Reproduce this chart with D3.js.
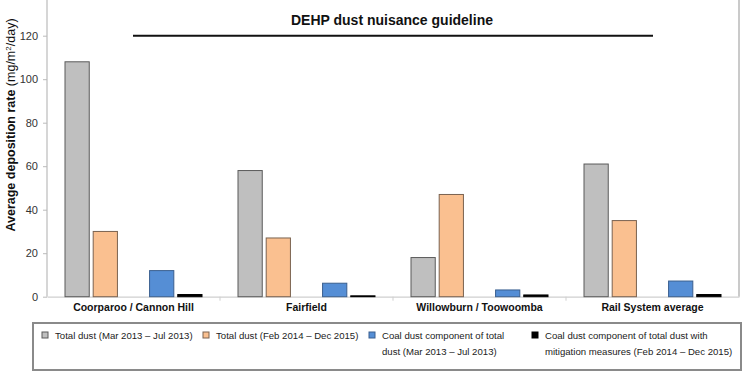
<!DOCTYPE html>
<html><head><meta charset="utf-8">
<script src="https://cdn.jsdelivr.net/npm/d3@7"></script>
<style>body{margin:0;background:#fff}svg{display:block}</style>
</head><body>
<svg id="c" width="750" height="375"></svg>
<script>
const categories = ["Coorparoo / Cannon Hill", "Fairfield", "Willowburn / Toowoomba", "Rail System average"];
const totalDust2013 = [108, 58, 18, 61];
const totalDust2014 = [30, 27, 47, 35];
const coalDust2013 = [12, 6.2, 3.1, 7.2];
const coalDustMitigated = [1, 0.4, 0.8, 1];
const yTicks = [0, 20, 40, 60, 80, 100, 120];
const guidelineValue = 120;
const guidelineLabel = "DEHP dust nuisance guideline";
const seriesNames = [
  ["Total dust (Mar 2013 – Jul 2013)"],
  ["Total dust (Feb 2014 – Dec 2015)"],
  ["Coal dust component of total", "dust (Mar 2013 – Jul 2013)"],
  ["Coal dust component of total dust with", "mitigation measures (Feb 2014 – Dec 2015)"]
];

(function () {
const series = [
  {key: "s0", values: totalDust2013, fill: "#bfbfbf", stroke: "#5a5a5a"},
  {key: "s1", values: totalDust2014, fill: "#fac090", stroke: "#7a6250"},
  {key: "s2", values: coalDust2013, fill: "#558ed5", stroke: "#3a5f8f"},
  {key: "s3", values: coalDustMitigated, fill: "#000000", stroke: "#000000"}
];

const svg = d3.select("#c");
const pLeft = 47, pRight = 739, pTop = 0, pBottom = 296.7;

const x = d3.scaleBand().domain(categories).range([pLeft, pRight]).padding(0);
const inner = d3.scaleBand().domain(["s0", "s1", "gap", "s2", "s3"])
  .range([18, x.bandwidth() - 18]).paddingInner(0.14).paddingOuter(0);
const y = d3.scaleLinear().domain([0, 120]).range([pBottom, 35.7]);

svg.append("line").attr("x1", pLeft).attr("x2", pLeft).attr("y1", pTop).attr("y2", pBottom)
  .attr("stroke", "#c8c8c8").attr("stroke-width", 1.5);
svg.append("line").attr("x1", pRight).attr("x2", pRight).attr("y1", pTop).attr("y2", pBottom)
  .attr("stroke", "#b8b8b8").attr("stroke-width", 1.5);

const yAxis = d3.axisLeft(y).tickValues(yTicks).tickSize(4).tickPadding(5);
const gy = svg.append("g").attr("transform", `translate(${pLeft},0)`).call(yAxis);
gy.select(".domain").remove();
gy.selectAll(".tick line").attr("stroke", "#bbb");
gy.selectAll(".tick text").attr("fill", "#333").style("font-family", "Liberation Sans, Arial, sans-serif").style("font-size", "11px");

const xAxis = d3.axisBottom(x).tickSize(0).tickPadding(7);
const gx = svg.append("g").attr("transform", `translate(0,${pBottom})`).call(xAxis);
gx.select(".domain").attr("stroke", "#cfcfcf").attr("stroke-width", 1.2);
gx.selectAll(".tick text").attr("fill", "#111").style("font-family", "Liberation Sans, Arial, sans-serif")
  .style("font-size", "10.5px").style("font-weight", "bold");
svg.append("g").selectAll("line").data(categories.slice(1)).join("line")
  .attr("x1", d => x(d)).attr("x2", d => x(d)).attr("y1", pBottom).attr("y2", pBottom + 4)
  .attr("stroke", "#cfcfcf");

const groups = svg.append("g").selectAll("g").data(categories).join("g")
  .attr("transform", d => `translate(${x(d)},0)`);
groups.selectAll("rect").data((c, i) => series.map(s => ({s, v: s.values[i]}))).join("rect")
  .attr("x", d => inner(d.s.key))
  .attr("width", inner.bandwidth())
  .attr("y", d => y(d.v))
  .attr("height", d => y(0) - y(d.v))
  .attr("fill", d => d.s.fill)
  .attr("stroke", d => d.s.stroke)
  .attr("stroke-width", 1);

svg.append("line").attr("x1", 133).attr("x2", 653).attr("y1", y(guidelineValue)).attr("y2", y(guidelineValue))
  .attr("stroke", "#111").attr("stroke-width", 2);
svg.append("text").attr("x", 392).attr("y", 25).attr("text-anchor", "middle")
  .style("font-family", "Liberation Sans, Arial, sans-serif").style("font-size", "14px").style("font-weight", "bold")
  .attr("fill", "#111").text(guidelineLabel);

const yl = svg.append("text").attr("transform", "translate(15,125) rotate(-90)").attr("text-anchor", "middle")
  .style("font-family", "Liberation Sans, Arial, sans-serif").style("font-size", "12.5px").attr("fill", "#111");
yl.append("tspan").style("font-weight", "bold").text("Average deposition rate ");
yl.append("tspan").text("(mg/m");
yl.append("tspan").attr("baseline-shift", "super").style("font-size", "8px").text("2");
yl.append("tspan").text("/day)");

svg.append("rect").attr("x", 33).attr("y", 323).attr("width", 708).attr("height", 47)
  .attr("fill", "#fff").attr("stroke", "#8a8a8a").attr("stroke-width", 2);
const legX = [42, 203, 369, 532];
const lg = svg.append("g").selectAll("g").data(series).join("g")
  .attr("transform", (d, i) => `translate(${legX[i]},0)`);
lg.append("rect").attr("x", 0).attr("y", 332).attr("width", 6).attr("height", 6)
  .attr("fill", d => d.fill).attr("stroke", d => d.stroke).attr("stroke-width", 1);
lg.append("text").attr("x", 13).attr("y", 339)
  .style("font-family", "Liberation Sans, Arial, sans-serif").style("font-size", "9.6px").attr("fill", "#222")
  .selectAll("tspan").data((d, i) => seriesNames[i]).join("tspan")
  .attr("x", 13).attr("dy", (d, j) => j === 0 ? 0 : 16).text(d => d);
})();
</script>
</body></html>
